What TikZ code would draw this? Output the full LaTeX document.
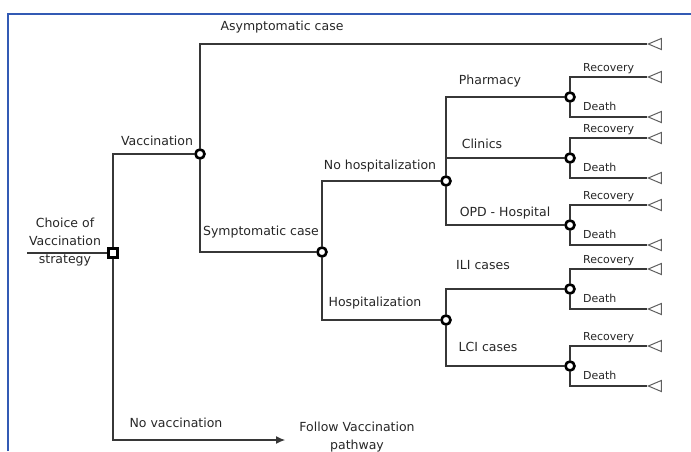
\documentclass[tikz,border=0pt]{standalone}
\usepackage{fontspec}
\setmainfont{DejaVu Sans}
\usetikzlibrary{shapes.geometric,arrows.meta}
\definecolor{frame}{RGB}{50,90,180}
\definecolor{wire}{RGB}{55,55,55}

\tikzset{
  chance/.style={circle,draw,line width=2.6pt,minimum size=9pt,inner sep=0pt,fill=white},
  choice/.style={rectangle,draw,line width=2.6pt,minimum size=9pt,inner sep=0pt,fill=white},
  leaf/.style={isosceles triangle,shape border rotate=180,isosceles triangle stretches,
    draw=wire!80,line width=1pt,minimum width=11pt,minimum height=13pt,inner sep=0pt,anchor=apex},
  branch/.style={draw=wire,line width=1.1pt},
  lab/.style={font=\fontsize{12.5}{18}\selectfont,text=black!85,inner sep=0pt,text height=9.5pt,text depth=2.5pt},
  olab/.style={font=\fontsize{11}{13}\selectfont,text=black!85,inner sep=0pt,anchor=west}
}

\begin{document}
\begin{tikzpicture}[x=1pt,y=-1pt]
\useasboundingbox (0,0) rectangle (691,451);
\draw[frame,line width=1.2pt] (8,451) -- (8,14) -- (691,14);

\coordinate (in) at (27,253);
\node[choice] at (113,253) (d) {};
\node[chance] at (200,154) (v) {};
\node[chance] at (322,252) (s) {};
\node[chance] at (446,181) (nh) {};
\node[chance] at (446,320) (h) {};
\node[chance] at (570,97) (ph) {};
\node[chance] at (570,158) (cl) {};
\node[chance] at (570,225) (op) {};
\node[chance] at (570,289) (il) {};
\node[chance] at (570,366) (lc) {};
\node[leaf] at (647,44) (a) {};
\coordinate (nv) at (285,440);

\path[branch] (in) -- (d);
\path[branch] (d) |- (v);
\path[branch,-{Latex[length=9pt,width=8pt]}] (d) |- (nv);
\path[branch] (v) |- (a);
\path[branch] (v) |- (s);
\path[branch] (s) |- (nh);
\path[branch] (s) |- (h);
\path[branch] (nh) |- (ph);
\path[branch] (nh) |- (cl);
\path[branch] (nh) |- (op);
\path[branch] (h) |- (il);
\path[branch] (h) |- (lc);

\foreach \n/\y in {ph/97,cl/158,op/225,il/289,lc/366}{
  \node[leaf] at (647,\y-20) (\n-r) {};
  \node[leaf] at (647,\y+20) (\n-d) {};
  \path[branch] (\n) |- (\n-r);
  \path[branch] (\n) |- (\n-d);
  \node[olab] at (583,\y-28) (\n-rl) {Recovery};
  \node[olab] at (583,\y+9) (\n-dl) {Death};
}

\node[lab,align=center] at (65,260) (ld) {Choice of\\Vaccination\\strategy};
\node[lab] at (282,27) (la) {Asymptomatic case};
\node[lab] at (157,142) (lv) {Vaccination};
\node[lab] at (261,232) (ls) {Symptomatic case};
\node[lab] at (380,166) (lnh) {No hospitalization};
\node[lab] at (375,303) (lh) {Hospitalization};
\node[lab] at (490,81) (lph) {Pharmacy};
\node[lab] at (482,145) (lcl) {Clinics};
\node[lab] at (505,213) (lop) {OPD - Hospital};
\node[lab] at (483,266) (lil) {ILI cases};
\node[lab] at (488,348) (llc) {LCI cases};
\node[lab] at (176,424) (lnv) {No vaccination};
\node[lab,align=center] at (357,446) (lf) {Follow Vaccination\\pathway};

\end{tikzpicture}
\end{document}
